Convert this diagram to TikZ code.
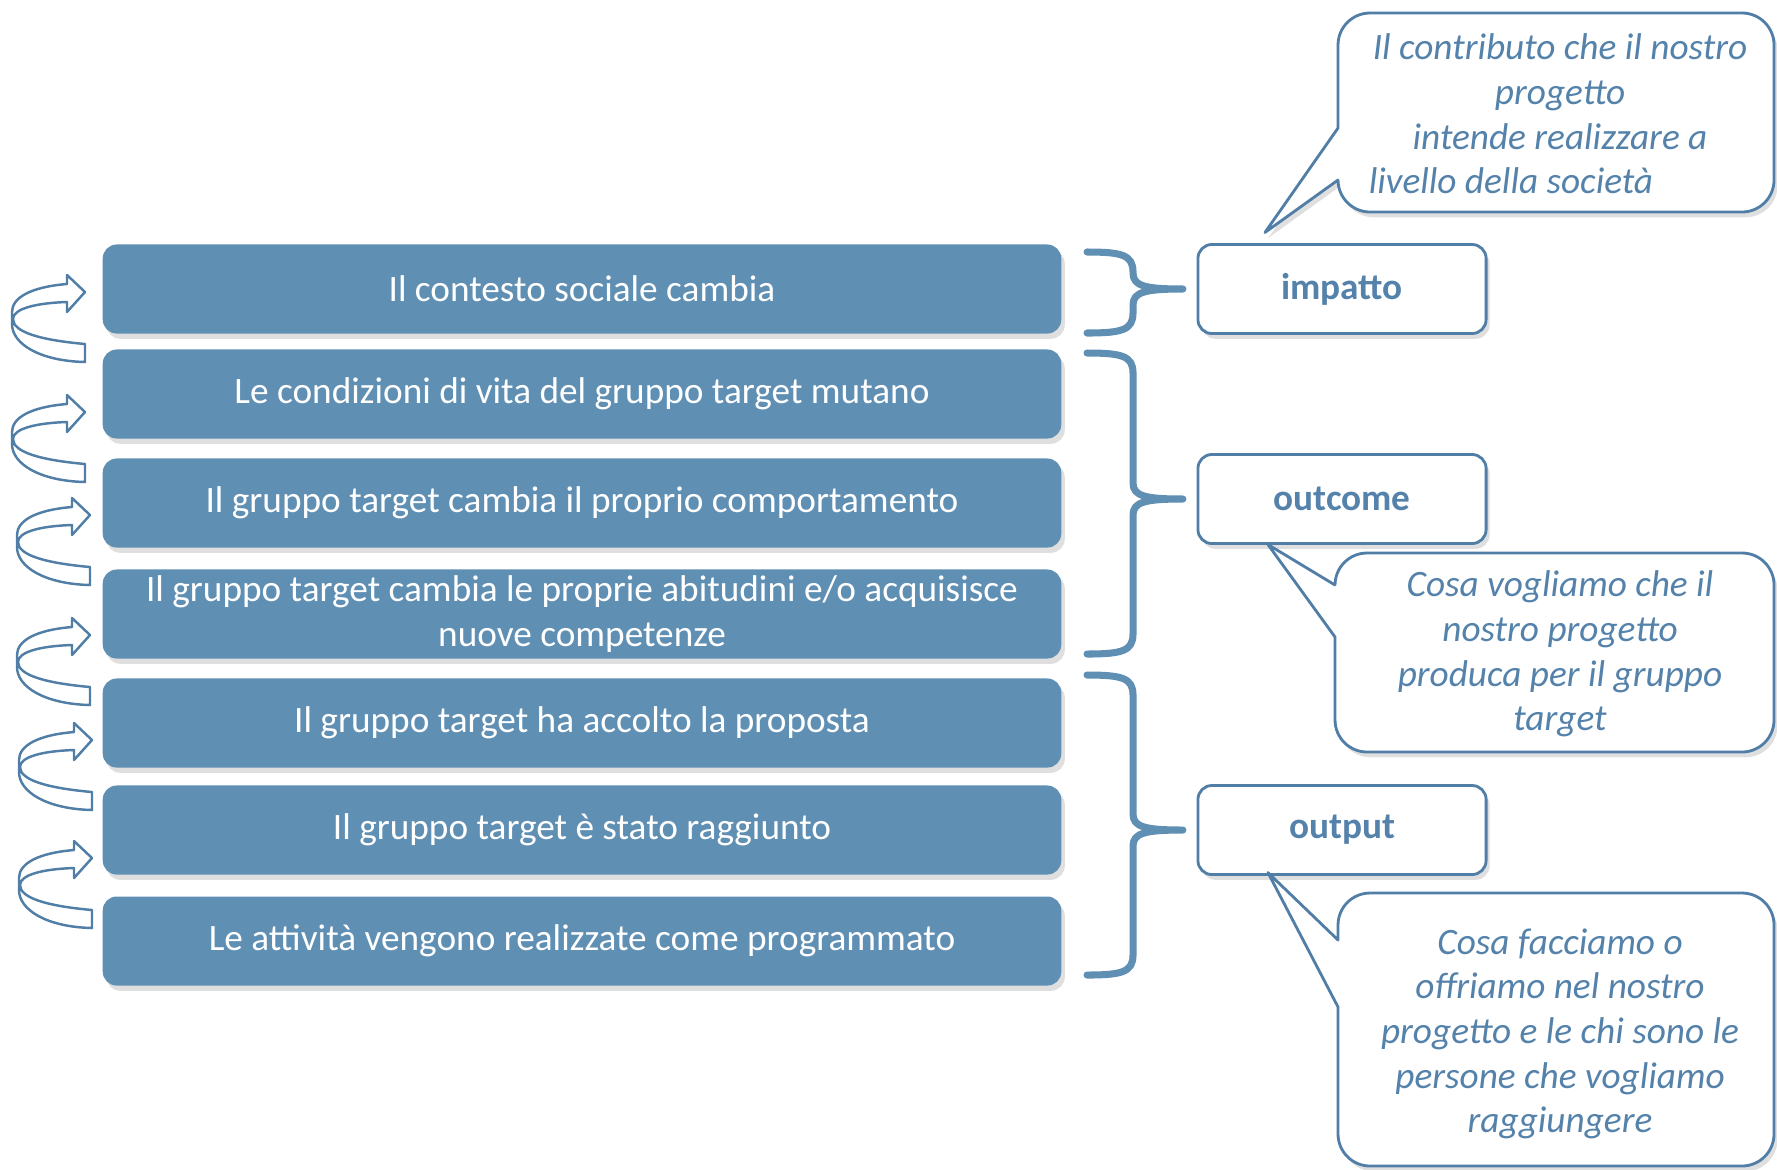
\documentclass[tikz,border=0pt]{standalone}
\usepackage{fontspec}
\setmainfont{Carlito}
\usetikzlibrary{shadows,calc}

\definecolor{rowblue}{RGB}{96,143,180}
\definecolor{lineblue}{RGB}{80,126,166}
\definecolor{textblue}{RGB}{84,130,170}

% brace: top y, middle y, bottom y, label node
\newcommand{\sidebrace}[4]{%
  \coordinate (#4tip) at ($(#4.west)+(-15,0)$);
  \draw [groupbrace] (1087,#1) .. controls (1122,#1) and (1133,#1+3) .. (1133,#1+20)
     -- (1133,#2-16) .. controls (1133,#2-3) and (1145,#2) .. (#4tip)
     .. controls (1145,#2) and (1133,#2+3) .. (1133,#2+16)
     -- (1133,#3-20) .. controls (1133,#3-3) and (1122,#3) .. (1087,#3);
}

\begin{document}
\begin{tikzpicture}[x=0.01cm, y=-0.01cm]
\tikzset{ inner sep=0pt, outer sep=0pt,
  rowbox/.style={fill=rowblue, rounded corners=0.14cm, minimum width=9.58cm,
    minimum height=0.89cm, text=white, align=center,
    font=\fontsize{10.6}{12.7}\selectfont,
    drop shadow={shadow xshift=1pt, shadow yshift=-1.5pt, opacity=0.25}},
  labelbox/.style={draw=lineblue, line width=0.8pt, fill=white, rounded corners=0.14cm,
    minimum width=2.88cm, minimum height=0.89cm, text=textblue,
    font=\fontsize{10.6}{12.7}\selectfont\bfseries,
    drop shadow={shadow xshift=1pt, shadow yshift=-1.5pt, opacity=0.25}},
  calloutline/.style={draw=lineblue, line width=0.8pt, fill=white, line join=round,
    drop shadow={shadow xshift=1pt, shadow yshift=-1.5pt, opacity=0.25}},
  callouttext/.style={text=textblue, align=center,
    font=\fontsize{10.6}{12.7}\selectfont\itshape},
  groupbrace/.style={draw=rowblue, line width=2pt, line cap=round, line join=round},
  loopline/.style={draw=lineblue, line width=0.7pt, fill=white, line join=round},
  loop arrow/.pic={
    \draw [loopline] (0,52) .. controls (-45,48) and (-72,40) .. (-72,27)
      .. controls (-72,17) and (-50,11) .. (-18,10) -- (-18,20) -- (0,0)
      -- (-18,-17) -- (-18,-8) .. controls (-55,-5) and (-73,6) .. (-73,20)
      -- (-73,32) .. controls (-73,52) and (-45,69) .. (0,70) -- cycle;
  },
}
\useasboundingbox (0,0) rectangle (1777,1169);
%\draw [lightgray, dashed] (0,0) grid[step=1cm] (1777,1169);

\node [rowbox] (R1) at (582,289) {Il contesto sociale cambia};
\node [rowbox] (R2) at (582,394) {Le condizioni di vita del gruppo target mutano};
\node [rowbox] (R3) at (582,503) {Il gruppo target cambia il proprio comportamento};
\node [rowbox] (R4) at (582,614) {Il gruppo target cambia le proprie abitudini e/o acquisisce\\nuove competenze};
\node [rowbox] (R5) at (582,723) {Il gruppo target ha accolto la proposta};
\node [rowbox] (R6) at (582,830) {Il gruppo target è stato raggiunto};
\node [rowbox] (R7) at (582,941) {Le attività vengono realizzate come programmato};

\pic at (85,292) {loop arrow};
\pic at (85,412) {loop arrow};
\pic at (90,515) {loop arrow};
\pic at (90,635) {loop arrow};
\pic at (92,740) {loop arrow};
\pic at (92,858) {loop arrow};

\node [labelbox] (IMP)  at (1342,289) {impatto};
\node [labelbox] (OUTC) at (1342,499) {outcome};
\node [labelbox] (OUTP) at (1342,830) {output};

\sidebrace{252}{289}{333}{IMP}
\sidebrace{353}{499}{654}{OUTC}
\sidebrace{675}{830}{975}{OUTP}

% callouts
\coordinate (T1) at ($(IMP.north west)+(67,-12)$);
\coordinate (T2) at ($(OUTC.south west)+(70,1)$);
\coordinate (T3) at ($(OUTP.south west)+(70,-2)$);

\draw [calloutline] (1338,180) [rounded corners=0.32cm] -- (1338,212) -- (1774,212)
  -- (1774,13) -- (1338,13) [sharp corners] -- (1338,128) -- (T1) -- cycle;
\draw [calloutline] (1335,637) [rounded corners=0.32cm] -- (1335,752) -- (1774,752)
  -- (1774,553) -- (1335,553) [sharp corners] -- (1335,585) -- (T2) -- cycle;
\draw [calloutline] (1338,1007) [rounded corners=0.32cm] -- (1338,1166) -- (1774,1166)
  -- (1774,893) -- (1338,893) [sharp corners] -- (1338,940) -- (T3) -- cycle;

\node [callouttext] (C1) at (1560,114) {Il contributo che il nostro\\progetto\\intende realizzare a\\livello della società\hspace*{0.98cm}};
\node [callouttext] (C2) at (1560,654) {Cosa vogliamo che il\\nostro progetto\\produca per il gruppo\\target};
\node [callouttext] (C3) at (1560,1034) {Cosa facciamo o\\offriamo nel nostro\\progetto e le chi sono le\\persone che vogliamo\\raggiungere};

\end{tikzpicture}
\end{document}
